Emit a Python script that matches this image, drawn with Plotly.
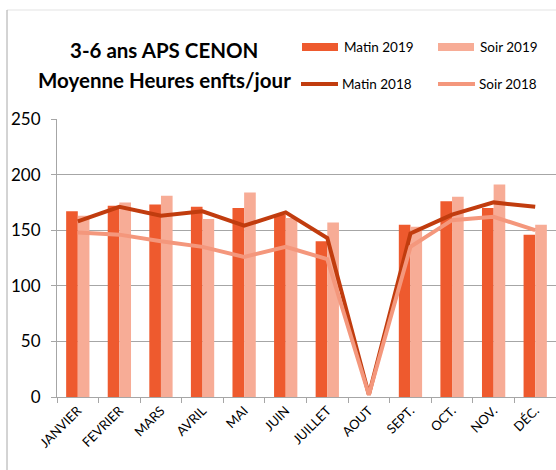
import plotly.graph_objects as go

months = ["JANVIER", "FEVRIER", "MARS", "AVRIL", "MAI", "JUIN", "JUILLET",
          "AOUT", "SEPT.", "OCT.", "NOV.", "DÉC."]
matin_2019 = [167, 172, 173, 171, 170, 164, 140, 0, 155, 176, 170, 146]
soir_2019 = [163, 175, 181, 160, 184, 161, 157, 0, 153, 180, 191, 155]
matin_2018 = [158, 171, 163, 167, 154, 166, 143, 2, 147, 164, 175, 171]
soir_2018 = [148, 146, 140, 135, 126, 135, 124, 2, 135, 159, 162, 150]
y_ticks = [0, 50, 100, 150, 200, 250]

C_M19 = "#EE5A2E"
C_S19 = "#F7AC96"
C_M18 = "#C13C0E"
C_S18 = "#F4977C"
FONT = "Lato"

W, H = 556, 470
ML, MR, MT, MB = 57, 0, 119, 73
PW, PH = W - ML - MR, H - MT - MB


def px(x):
    return (x - ML) / PW


def py(y):
    return (H - MB - y) / PH


fig = go.Figure()
fig.add_trace(go.Bar(x=months, y=matin_2019, name="Matin 2019",
                     marker=dict(color=C_M19, line=dict(width=0))))
fig.add_trace(go.Bar(x=months, y=soir_2019, name="Soir 2019",
                     marker=dict(color=C_S19, line=dict(width=0))))
fig.add_trace(go.Scatter(x=months, y=matin_2018, name="Matin 2018", mode="lines",
                         line=dict(color=C_M18, width=4)))
fig.add_trace(go.Scatter(x=months, y=soir_2018, name="Soir 2018", mode="lines",
                         line=dict(color=C_S18, width=4)))

shapes = []
annotations = []
# chart frame (partial, cropped)
shapes.append(dict(type="line", xref="paper", yref="paper", x0=px(7), x1=px(W),
                   y0=py(10), y1=py(10), line=dict(color="#E3E3E3", width=1)))
shapes.append(dict(type="line", xref="paper", yref="paper", x0=px(7), x1=px(7),
                   y0=py(10), y1=py(H), line=dict(color="#A8A8A8", width=1)))

# title
annotations.append(dict(text="<b>3-6 ans APS CENON</b>", xref="paper", yref="paper",
                        x=px(164), y=py(50), xanchor="center", yanchor="middle",
                        showarrow=False, font=dict(family=FONT, size=20.5, color="#000")))
annotations.append(dict(text="<b>Moyenne Heures enfts/jour</b>", xref="paper", yref="paper",
                        x=px(164), y=py(80), xanchor="center", yanchor="middle",
                        showarrow=False, font=dict(family=FONT, size=20.5, color="#000")))

# legend (manual)
legend_items = [
    ("Matin 2019", C_M19, "bar", 302, 47),
    ("Soir 2019", C_S19, "bar", 438, 47),
    ("Matin 2018", C_M18, "line", 300, 84),
    ("Soir 2018", C_S18, "line", 437, 84),
]
for name, col, kind, x0, yc in legend_items:
    if kind == "bar":
        shapes.append(dict(type="rect", xref="paper", yref="paper",
                           x0=px(x0), x1=px(x0 + 36), y0=py(yc - 4), y1=py(yc + 4),
                           fillcolor=col, line=dict(width=0)))
    else:
        shapes.append(dict(type="line", xref="paper", yref="paper",
                           x0=px(x0 + 1), x1=px(x0 + 38), y0=py(yc), y1=py(yc),
                           line=dict(color=col, width=4)))
    annotations.append(dict(text=name, xref="paper", yref="paper",
                            x=px(x0 + 40), y=py(yc), xanchor="left", yanchor="middle",
                            showarrow=False, font=dict(family=FONT, size=13.5, color="#000")))

fig.update_layout(
    width=W, height=H,
    margin=dict(l=ML, r=MR, t=MT, b=MB, pad=0),
    paper_bgcolor="white", plot_bgcolor="white",
    barmode="group", bargap=0.44, bargroupgap=0,
    showlegend=False,
    shapes=shapes, annotations=annotations,
    font=dict(family=FONT, color="#000"),
    xaxis=dict(type="category", tickangle=-45, tickson="boundaries",
               ticks="outside", ticklen=5, tickcolor="#A6A6A6",
               showline=True, linecolor="#A6A6A6", linewidth=1,
               showgrid=False, tickfont=dict(family=FONT, size=13, color="#000")),
    yaxis=dict(range=[0, 250], tickvals=y_ticks, ticks="outside", ticklen=5,
               tickcolor="#A6A6A6", showline=True, linecolor="#A6A6A6",
               gridcolor="#A6A6A6", gridwidth=1, zeroline=False,
               ticklabelstandoff=7,
               tickfont=dict(family=FONT, size=17, color="#000")),
)

fig.write_html("out.html", config={"displayModeBar": False},
               post_script="document.body.style.margin='0';")
